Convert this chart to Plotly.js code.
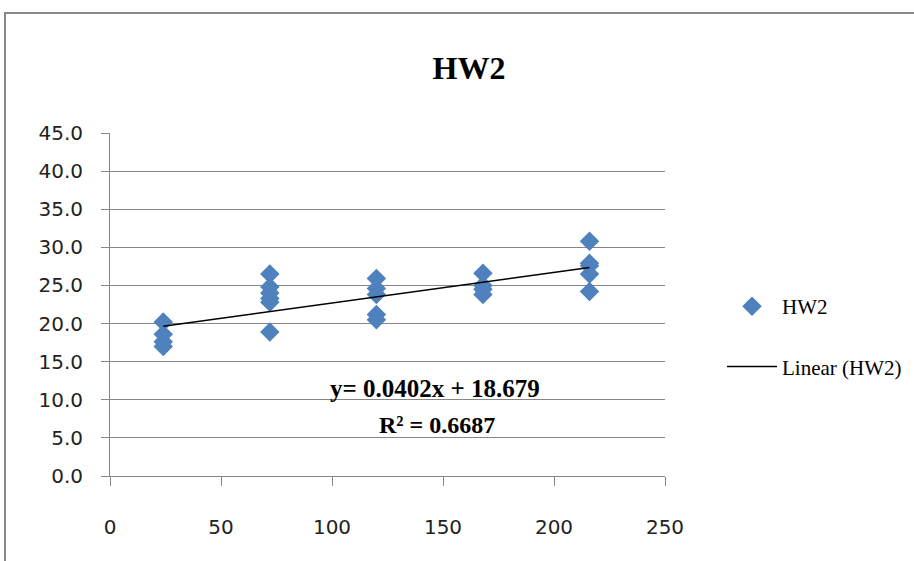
<!DOCTYPE html>
<html><head><meta charset="utf-8">
<script src="https://cdn.plot.ly/plotly-3.0.1.min.js"></script>
<style>html,body{margin:0;padding:0;background:#fff;}#chart{width:914px;height:561px;}</style>
</head><body><div id="chart"></div>
<script>
const xValues = [24,24,24,24, 72,72,72,72,72,72, 120,120,120,120,120, 168,168,168,168, 216,216,216,216,216];
const yValues = [20.2,18.6,17.6,17.0, 26.5,24.8,24.0,23.3,22.8,18.9, 25.9,24.6,23.8,21.2,20.5, 26.6,25.0,24.5,23.8, 30.8,27.9,27.6,26.5,24.2];
const seriesName = "HW2";
const trendSlope = 0.0402;
const trendIntercept = 18.679;
const rSquared = 0.6687;
const xTicks = [0,50,100,150,200,250];
const yTicks = [0,5,10,15,20,25,30,35,40,45];

const xmin = Math.min(...xValues), xmax = Math.max(...xValues);
const trendX = [xmin, xmax];
const trendY = trendX.map(x => trendSlope*x + trendIntercept);

const L=110, R=665, T=133, B=476, W=914, H=561;
const px = v => (v - L)/(R-L);
const py = v => (B - v)/(B-T);

const data = [
 {x:xValues, y:yValues, type:'scatter', mode:'markers', name:seriesName, legendgroup:'a',
  marker:{symbol:'diamond', size:15, color:'#4F81BD'}},
 {x:trendX, y:trendY, type:'scatter', mode:'lines', name:'Linear (' + seriesName + ')', legendgroup:'b',
  line:{color:'#000', width:1.5}}
];
const tickFont = {family:'DejaVu Sans', size:20, color:'#222'};
const layout = {
 width:W, height:H,
 margin:{l:L, r:W-R, t:T, b:H-B, autoexpand:false},
 paper_bgcolor:'#fff', plot_bgcolor:'#fff',
 title:{text:'<b>HW2</b>', font:{family:'Liberation Serif', size:32, color:'#000'}, x:469/W, xref:'container', xanchor:'center', y:1-68/H, yref:'container', yanchor:'middle'},
 xaxis:{range:[0,250], tickvals:xTicks, ticktext:xTicks.map(String), showgrid:false, zeroline:false, automargin:false,
   showline:true, linecolor:'#868686', linewidth:1, ticks:'outside', ticklen:9, tickcolor:'#868686', tickfont:tickFont, ticklabelstandoff:24},
 yaxis:{range:[0,45], tickvals:yTicks, ticktext:yTicks.map(v=>v.toFixed(1)), showgrid:true, gridcolor:'#868686', gridwidth:1, zeroline:false, automargin:false,
   showline:true, linecolor:'#868686', linewidth:1, ticks:'outside', ticklen:8, tickcolor:'#868686', tickfont:tickFont, ticklabelstandoff:14},
 showlegend:true,
 legend:{x:px(722), y:py(286), xanchor:'left', yanchor:'top', font:{family:'Liberation Serif', size:21, color:'#000'},
   traceorder:'grouped', tracegroupgap:30, bgcolor:'rgba(0,0,0,0)', itemwidth:50},
 annotations:[
  {xref:'paper', yref:'paper', x:px(435), y:py(388), text:'<b>y= ' + trendSlope + 'x + ' + trendIntercept + '</b>', showarrow:false,
   font:{family:'Liberation Serif', size:25, color:'#000'}, xanchor:'center', yanchor:'middle'},
  {xref:'paper', yref:'paper', x:px(437), y:py(425), text:'<b>R² = ' + rSquared + '</b>', showarrow:false,
   font:{family:'Liberation Serif', size:24, color:'#000'}, xanchor:'center', yanchor:'middle'}
 ],
 shapes:[
  {type:'rect', xref:'paper', yref:'paper', x0:px(5), x1:px(930), y0:py(580), y1:py(13), line:{color:'#888', width:2}, fillcolor:'rgba(0,0,0,0)', layer:'below'}
 ]
};
Plotly.newPlot('chart', data, layout, {displayModeBar:false, staticPlot:true});
</script></body></html>
